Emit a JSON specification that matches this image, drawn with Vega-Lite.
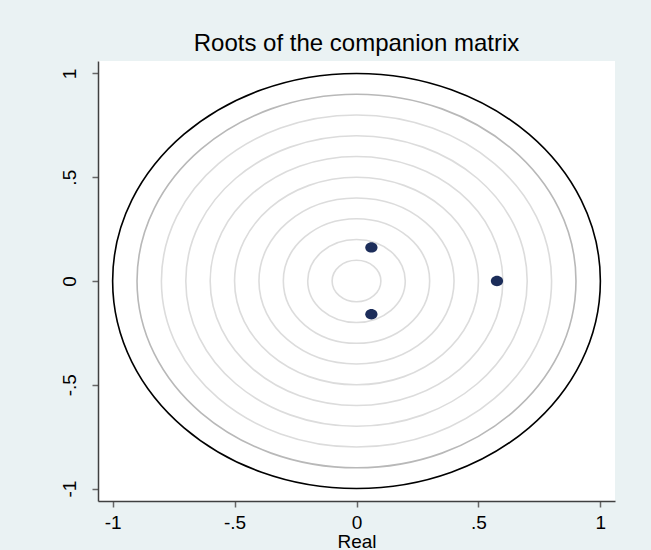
{
  "$schema": "https://vega.github.io/schema/vega-lite/v6.json",
  "width": 517,
  "height": 440,
  "autosize": {"type": "none"},
  "padding": {"left": 98, "top": 61, "right": 36, "bottom": 49},
  "background": "#EAF2F3",
  "title": {"text": "Roots of the companion matrix", "fontSize": 24, "font": "Liberation Sans", "fontWeight": "normal", "color": "#000000", "offset": 5, "anchor": "middle"},
  "config": {
    "view": {"stroke": null, "fill": "white"},
    "axis": {"labelFont": "Liberation Sans", "titleFont": "Liberation Sans", "labelFontSize": 19, "titleFontSize": 19, "titleFontWeight": "normal", "labelColor": "#000000", "titleColor": "#000000", "domainColor": "#404040", "domainWidth": 1.5, "tickColor": "#666666", "tickWidth": 1.5, "tickSize": 6, "grid": false}
  },
  "layer": [
    {
      "data": {"values": [
        {"r": 0.1}, {"r": 0.2}, {"r": 0.3}, {"r": 0.4}, {"r": 0.5},
        {"r": 0.6}, {"r": 0.7}, {"r": 0.8}, {"r": 0.9}, {"r": 1.0}
      ]},
      "mark": {"type": "point", "shape": "M -1 0 C -1 -0.4701 -0.5523 -0.8511 0 -0.8511 C 0.5523 -0.8511 1 -0.4701 1 0 C 1 0.4701 0.5523 0.8511 0 0.8511 C -0.5523 0.8511 -1 0.4701 -1 0 Z", "filled": false, "opacity": 1, "strokeWidth": 1.6, "clip": true},
      "encoding": {
        "x": {"datum": 0, "type": "quantitative", "scale": {"domain": [-1.06, 1.06], "nice": false, "zero": false}, "axis": {"values": [-1, -0.5, 0, 0.5, 1], "title": "Real", "labelPadding": 6, "titlePadding": 0, "labelExpr": "datum.value == 0.5 ? '.5' : datum.value == -0.5 ? '-.5' : datum.value == -1 ? '-1' : datum.value == 1 ? '1' : '0'"}},
        "y": {"datum": 0, "type": "quantitative", "scale": {"domain": [-1.06, 1.06], "nice": false, "zero": false}, "axis": {"values": [-1, -0.5, 0, 0.5, 1], "title": null, "labelAngle": 270, "labelAlign": "center", "labelBaseline": "bottom", "labelPadding": 13, "labelExpr": "datum.value == 0.5 ? '.5' : datum.value == -0.5 ? '-.5' : datum.value == -1 ? '-1' : datum.value == 1 ? '1' : '0'"}},
        "size": {"field": "r", "type": "quantitative", "scale": {"type": "pow", "exponent": 2, "domain": [0, 1], "range": [0, 237890]}, "legend": null},
        "stroke": {"condition": [{"test": "datum.r == 1", "value": "#000000"}, {"test": "datum.r == 0.9", "value": "#b8b8b8"}], "value": "#dcdcdc"}
      }
    },
    {
      "data": {"values": [
        {"re": 0.061, "im": 0.162},
        {"re": 0.061, "im": -0.160},
        {"re": 0.576, "im": 0.0}
      ]},
      "mark": {"type": "point", "shape": "M -1 0 C -1 -0.4701 -0.5523 -0.8511 0 -0.8511 C 0.5523 -0.8511 1 -0.4701 1 0 C 1 0.4701 0.5523 0.8511 0 0.8511 C -0.5523 0.8511 -1 0.4701 -1 0 Z", "filled": true, "opacity": 1, "size": 150, "color": "#1c2d5a", "strokeWidth": 0},
      "encoding": {
        "x": {"field": "re", "type": "quantitative"},
        "y": {"field": "im", "type": "quantitative"}
      }
    }
  ]
}
